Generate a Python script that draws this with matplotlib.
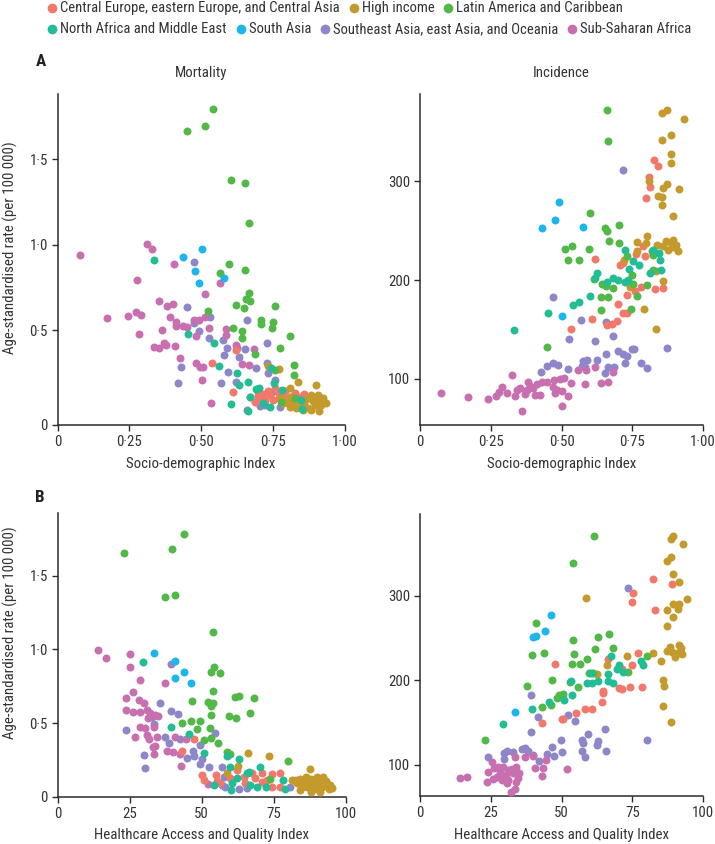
import matplotlib
matplotlib.use("Agg")
import matplotlib.pyplot as plt
from matplotlib import font_manager
from matplotlib.lines import Line2D

# ---------------- data ----------------
REGIONS = ["Central Europe, eastern Europe, and Central Asia", "High income",
           "Latin America and Caribbean", "North Africa and Middle East", "South Asia",
           "Southeast Asia, east Asia, and Oceania", "Sub-Saharan Africa"]
CODES = ["CEE", "HI", "LAC", "NAME", "SA", "SEAO", "SSA"]
COLORS = {"CEE": "#F2786C", "HI": "#C39A2B", "LAC": "#52B848", "NAME": "#22BC95",
          "SA": "#1BB6EB", "SEAO": "#8D87C9", "SSA": "#C86FAF"}

# Panel A, mortality vs Socio-demographic Index
mort_sdi = {
    "LAC": [(0.541, 1.795), (0.514, 1.696), (0.450, 1.667), (0.605, 1.378), (0.652, 1.363), (0.665, 1.129),
            (0.597, 0.885), (0.564, 0.836), (0.651, 0.852), (0.666, 0.719), (0.657, 0.682), (0.671, 0.671),
            (0.650, 0.628), (0.620, 0.647), (0.524, 0.614), (0.756, 0.643), (0.707, 0.563), (0.750, 0.550),
            (0.709, 0.534), (0.610, 0.511), (0.643, 0.497), (0.747, 0.511), (0.641, 0.456), (0.807, 0.466),
            (0.773, 0.398), (0.687, 0.361), (0.824, 0.297), (0.821, 0.238), (0.757, 0.270), (0.825, 0.101),
            (0.778, 0.082)],
    "SA": [(0.435, 0.926), (0.504, 0.975), (0.477, 0.848), (0.492, 0.774), (0.579, 0.807)],
    "NAME": [(0.335, 0.914), (0.454, 0.477), (0.543, 0.423), (0.563, 0.293), (0.625, 0.252), (0.632, 0.179),
             (0.661, 0.199), (0.604, 0.069), (0.661, 0.030), (0.689, 0.155), (0.701, 0.160), (0.753, 0.193),
             (0.715, 0.076), (0.740, 0.053), (0.848, 0.092), (0.851, 0.037), (0.744, 0.277), (0.668, 0.111),
             (0.780, 0.150)],
    "CEE": [(0.537, 0.310), (0.622, 0.384), (0.610, 0.140), (0.668, 0.107), (0.697, 0.115), (0.732, 0.147),
            (0.715, 0.127), (0.793, 0.147), (0.807, 0.107), (0.859, 0.127), (0.749, 0.092), (0.772, 0.101),
            (0.720, 0.092), (0.825, 0.131), (0.767, 0.141), (0.740, 0.121), (0.686, 0.082), (0.784, 0.121),
            (0.697, 0.140), (0.795, 0.082), (0.842, 0.111), (0.755, 0.160), (0.703, 0.101), (0.877, 0.101)],
    "HI": [(0.732, 0.291), (0.770, 0.271), (0.837, 0.199), (0.898, 0.179), (0.810, 0.160), (0.798, 0.082),
           (0.819, 0.063), (0.842, 0.088), (0.865, 0.096), (0.888, 0.088), (0.912, 0.082), (0.935, 0.076),
           (0.871, 0.043), (0.909, 0.028), (0.848, 0.063), (0.831, 0.043), (0.894, 0.063), (0.807, 0.053),
           (0.882, 0.121), (0.859, 0.072), (0.825, 0.092), (0.900, 0.101), (0.923, 0.101), (0.785, 0.076),
           (0.853, 0.034), (0.883, 0.034), (0.917, 0.063), (0.778, 0.101), (0.813, 0.111), (0.905, 0.121)],
    "SEAO": [(0.476, 0.901), (0.452, 0.634), (0.532, 0.579), (0.492, 0.497), (0.474, 0.540), (0.526, 0.452),
             (0.574, 0.446), (0.658, 0.560), (0.590, 0.394), (0.579, 0.355), (0.630, 0.345), (0.624, 0.398),
             (0.651, 0.388), (0.729, 0.427), (0.729, 0.306), (0.733, 0.252), (0.689, 0.277), (0.594, 0.254),
             (0.570, 0.193), (0.431, 0.283), (0.420, 0.189), (0.622, 0.199), (0.755, 0.212), (0.747, 0.140),
             (0.703, 0.057), (0.720, 0.063), (0.773, 0.049), (0.804, 0.072), (0.778, 0.107), (0.659, 0.034)],
    "SSA": [(0.078, 0.943), (0.171, 0.573), (0.245, 0.585), (0.272, 0.608), (0.292, 0.589), (0.278, 0.797),
            (0.284, 0.477), (0.311, 1.002), (0.328, 0.973), (0.405, 0.885), (0.354, 0.673), (0.382, 0.644),
            (0.402, 0.653), (0.391, 0.579), (0.411, 0.550), (0.411, 0.526), (0.435, 0.526), (0.452, 0.520),
            (0.475, 0.559), (0.491, 0.559), (0.512, 0.575), (0.512, 0.715), (0.564, 0.774), (0.526, 0.516),
            (0.362, 0.501), (0.336, 0.404), (0.354, 0.394), (0.377, 0.413), (0.410, 0.409), (0.370, 0.423),
            (0.427, 0.339), (0.483, 0.466), (0.481, 0.310), (0.497, 0.287), (0.506, 0.283), (0.504, 0.209),
            (0.535, 0.076), (0.587, 0.505), (0.587, 0.472), (0.620, 0.413), (0.643, 0.302), (0.666, 0.297),
            (0.683, 0.388)],
}

# Panel A, incidence vs Socio-demographic Index
inc_sdi = {
    "LAC": [(0.660, 372), (0.663, 340), (0.601, 268), (0.655, 253), (0.662, 250), (0.702, 256), (0.669, 239),
            (0.704, 237), (0.512, 231), (0.538, 234), (0.596, 231), (0.523, 220), (0.563, 220), (0.615, 201),
            (0.644, 196), (0.681, 192), (0.638, 183), (0.665, 183), (0.639, 170), (0.744, 171), (0.767, 184),
            (0.448, 132), (0.748, 205), (0.754, 196), (0.803, 195), (0.819, 229), (0.822, 225), (0.825, 210),
            (0.657, 194), (0.730, 224)],
    "SA": [(0.492, 279), (0.476, 261), (0.432, 253), (0.577, 254), (0.502, 164)],
    "NAME": [(0.332, 149), (0.451, 167), (0.542, 175), (0.561, 178), (0.601, 184), (0.627, 207), (0.619, 202),
             (0.660, 198), (0.681, 202), (0.701, 200), (0.724, 198), (0.736, 200), (0.724, 230), (0.751, 219),
             (0.775, 215), (0.740, 211), (0.813, 207), (0.822, 230), (0.846, 227), (0.848, 220), (0.852, 210)],
    "CEE": [(0.828, 321), (0.842, 315), (0.808, 304), (0.813, 294), (0.799, 283), (0.618, 221), (0.707, 215),
            (0.718, 217), (0.763, 226), (0.795, 224), (0.789, 234), (0.730, 185), (0.760, 189), (0.781, 193),
            (0.830, 191), (0.860, 192), (0.701, 176), (0.718, 167), (0.730, 167), (0.660, 155), (0.677, 156),
            (0.695, 159), (0.609, 161), (0.534, 151)],
    "HI": [(0.854, 369), (0.872, 372), (0.933, 363), (0.856, 342), (0.887, 347), (0.886, 327), (0.887, 318),
           (0.810, 300), (0.860, 293), (0.874, 297), (0.916, 292), (0.842, 285), (0.854, 284), (0.854, 276),
           (0.895, 265), (0.803, 244), (0.768, 238), (0.798, 237), (0.836, 235), (0.869, 239), (0.886, 237),
           (0.905, 235), (0.893, 240), (0.910, 229), (0.878, 230), (0.860, 234), (0.766, 229), (0.722, 220),
           (0.834, 209), (0.858, 199), (0.742, 193), (0.792, 171), (0.834, 151), (0.895, 233)],
    "SEAO": [(0.718, 311), (0.471, 183), (0.568, 160), (0.657, 158), (0.528, 140), (0.620, 138), (0.681, 143),
             (0.657, 125), (0.627, 119), (0.701, 128), (0.718, 125), (0.748, 130), (0.756, 130), (0.724, 116),
             (0.780, 116), (0.801, 111), (0.874, 131), (0.577, 118), (0.589, 119), (0.583, 112), (0.571, 113),
             (0.524, 110), (0.426, 107), (0.450, 113), (0.471, 116), (0.489, 114), (0.652, 106), (0.665, 112),
             (0.685, 112), (0.733, 123)],
    "SSA": [(0.074, 86), (0.168, 82), (0.242, 80), (0.268, 83), (0.280, 87), (0.288, 92), (0.309, 86),
            (0.325, 104), (0.334, 83), (0.353, 91), (0.359, 68), (0.371, 85), (0.380, 97), (0.389, 93),
            (0.400, 91), (0.412, 95), (0.424, 84), (0.430, 97), (0.448, 97), (0.475, 99), (0.477, 86),
            (0.495, 100), (0.509, 101), (0.501, 88), (0.502, 73), (0.524, 83), (0.532, 96), (0.559, 109),
            (0.584, 95), (0.587, 109), (0.618, 112), (0.638, 96), (0.665, 97), (0.681, 107), (0.471, 92),
            (0.483, 89), (0.406, 84), (0.377, 89), (0.342, 89)],
}

# Panel B, mortality vs Healthcare Access and Quality Index
mort_haq = {
    "LAC": [(43.8, 1.781), (39.8, 1.681), (23.0, 1.652), (37.4, 1.354), (40.8, 1.369), (53.9, 1.121),
            (54.3, 0.881), (53.2, 0.850), (56.4, 0.838), (53.9, 0.719), (52.0, 0.646), (53.8, 0.635),
            (53.3, 0.617), (53.3, 0.556), (46.5, 0.653), (61.5, 0.680), (62.8, 0.685), (68.0, 0.669),
            (59.3, 0.551), (61.9, 0.538), (66.8, 0.567), (43.1, 0.499), (46.2, 0.515), (49.5, 0.518),
            (48.3, 0.459), (52.7, 0.470), (53.3, 0.398), (55.8, 0.364), (50.9, 0.386), (58.7, 0.307),
            (80.0, 0.246), (73.5, 0.120), (59.9, 0.290)],
    "SA": [(33.6, 0.974), (40.7, 0.922), (44.0, 0.845), (40.9, 0.805), (46.4, 0.775)],
    "NAME": [(29.5, 0.913), (39.5, 0.477), (45.5, 0.427), (50.9, 0.301), (58.7, 0.278), (63.0, 0.258),
             (59.9, 0.201), (66.5, 0.172), (70.3, 0.201), (60.5, 0.097), (54.1, 0.081), (60.1, 0.047),
             (66.8, 0.081), (69.2, 0.066), (72.4, 0.066), (78.2, 0.115), (79.0, 0.052), (65.7, 0.160),
             (62.2, 0.127)],
    "CEE": [(47.2, 0.391), (50.1, 0.149), (50.9, 0.115), (55.0, 0.149), (55.3, 0.111), (64.5, 0.133),
            (65.1, 0.093), (67.4, 0.165), (70.9, 0.160), (70.9, 0.104), (74.4, 0.156), (77.0, 0.165),
            (77.2, 0.070), (82.5, 0.115), (62.2, 0.183), (59.7, 0.127), (68.6, 0.127), (72.6, 0.115),
            (74.4, 0.070), (56.4, 0.093), (43.1, 0.314)],
    "HI": [(65.9, 0.301), (73.2, 0.278), (62.6, 0.210), (58.7, 0.165), (87.4, 0.188), (84.2, 0.120),
           (85.9, 0.111), (87.7, 0.120), (89.4, 0.111), (91.1, 0.115), (92.9, 0.111), (84.8, 0.070),
           (86.5, 0.066), (88.3, 0.075), (90.0, 0.052), (91.7, 0.070), (94.0, 0.052), (88.9, 0.088),
           (87.1, 0.093), (90.6, 0.093), (92.3, 0.081), (85.6, 0.088), (83.0, 0.093), (95.2, 0.059),
           (93.5, 0.088), (89.8, 0.133), (87.9, 0.036), (91.1, 0.036), (81.3, 0.115), (86.3, 0.133),
           (84.2, 0.047), (92.1, 0.133), (94.4, 0.081)],
    "SEAO": [(39.4, 0.899), (35.5, 0.640), (39.3, 0.583), (41.8, 0.560), (23.8, 0.454), (32.7, 0.544),
             (33.5, 0.493), (37.1, 0.405), (38.8, 0.364), (42.5, 0.391), (54.7, 0.432), (30.0, 0.285),
             (30.4, 0.194), (44.9, 0.262), (47.0, 0.312), (47.2, 0.278), (49.5, 0.224), (50.1, 0.255),
             (52.4, 0.201), (57.0, 0.206), (57.6, 0.133), (57.0, 0.081), (58.2, 0.070), (62.8, 0.052),
             (65.7, 0.059), (80.5, 0.066), (49.5, 0.353)],
    "SSA": [(14.2, 0.997), (16.8, 0.940), (25.2, 0.970), (25.0, 0.879), (28.6, 0.793), (37.1, 0.771),
            (23.8, 0.669), (26.1, 0.710), (28.4, 0.658), (30.0, 0.640), (23.8, 0.590), (26.1, 0.579),
            (28.6, 0.574), (31.0, 0.590), (32.1, 0.567), (33.8, 0.556), (35.0, 0.549), (31.2, 0.533),
            (28.6, 0.477), (30.4, 0.466), (33.5, 0.477), (26.9, 0.409), (31.0, 0.420), (31.8, 0.391),
            (34.4, 0.409), (33.8, 0.346), (33.0, 0.341), (33.6, 0.292), (37.9, 0.314), (40.2, 0.307),
            (40.8, 0.409), (42.5, 0.292), (42.8, 0.212), (44.5, 0.391), (52.0, 0.088)],
}

# Panel B, incidence vs Healthcare Access and Quality Index
inc_haq = {
    "LAC": [(61.5, 371), (54.2, 339), (40.9, 268), (62.9, 252), (66.7, 255), (53.9, 248), (61.7, 237),
            (68.1, 238), (39.7, 230), (43.8, 233), (54.4, 231), (53.6, 220), (56.5, 220), (58.9, 225),
            (46.6, 201), (37.7, 193), (59.6, 209), (61.2, 209), (53.0, 198), (55.9, 192), (48.3, 179),
            (49.2, 183), (50.6, 184), (43.0, 169), (46.3, 171), (23.0, 130), (80.1, 229), (73.6, 210)],
    "SA": [(46.2, 278), (44.2, 259), (40.9, 253), (40.0, 252), (33.7, 163)],
    "NAME": [(29.4, 149), (39.7, 166), (45.7, 174), (50.9, 177), (53.6, 183), (53.2, 199), (58.9, 197),
             (60.4, 209), (60.8, 197), (63.0, 199), (66.5, 208), (66.5, 199), (68.1, 197), (67.4, 229),
             (69.5, 214), (70.4, 218), (71.8, 210), (78.1, 223), (78.9, 218)],
    "CEE": [(82.4, 320), (89.2, 314), (75.1, 303), (74.8, 293), (83.2, 283), (47.6, 220), (66.5, 225),
            (74.8, 218), (77.0, 233), (64.8, 188), (64.8, 185), (70.4, 191), (71.3, 190), (74.2, 192),
            (78.4, 192), (64.3, 175), (58.2, 166), (60.9, 166), (55.1, 161), (50.1, 155), (50.4, 154),
            (43.0, 150), (71.3, 214)],
    "HI": [(88.7, 367), (89.5, 371), (93.1, 362), (87.4, 341), (88.6, 346), (89.5, 326), (91.6, 316),
           (58.7, 298), (89.5, 291), (91.6, 291), (94.2, 296), (91.3, 284), (87.2, 283), (89.5, 275),
           (87.4, 264), (82.4, 233), (85.2, 223), (87.4, 235), (88.9, 234), (90.7, 233), (92.1, 238),
           (91.6, 242), (92.5, 231), (90.1, 228), (88.3, 240), (73.3, 229), (66.2, 218), (62.7, 208),
           (85.7, 200), (86.2, 193), (85.7, 170), (88.7, 151)],
    "SEAO": [(73.6, 310), (39.2, 183), (41.8, 157), (52.4, 159), (54.8, 152), (39.2, 139), (65.4, 142),
             (59.5, 137), (49.8, 130), (57.1, 130), (57.5, 126), (63.0, 128), (62.7, 124), (80.3, 130),
             (57.4, 117), (58.3, 110), (65.7, 116), (23.9, 110), (29.7, 114), (30.6, 117), (33.0, 115),
             (35.9, 119), (37.1, 120), (38.3, 116), (40.0, 112), (42.2, 105), (44.8, 113), (46.5, 121),
             (47.3, 111), (50.1, 115), (29.8, 107)],
    "SSA": [(14.1, 85), (16.7, 86), (23.6, 80), (25.4, 104), (24.0, 92), (26.0, 96), (27.1, 86), (28.3, 91),
            (29.4, 98), (30.4, 88), (31.2, 82), (32.4, 95), (33.0, 90), (33.9, 98), (34.7, 85), (35.1, 91),
            (33.6, 109), (32.2, 68), (33.6, 72), (30.6, 79), (28.9, 82), (25.7, 83), (37.1, 109), (40.0, 111),
            (44.5, 106), (40.6, 96), (43.3, 97), (43.0, 87), (51.8, 95), (27.5, 98), (31.0, 94), (34.0, 80)],
}

# ---------------- figure ----------------
W, H = 715, 844
avail = {f.name for f in font_manager.fontManager.ttflist}
FONT = next((f for f in ["Liberation Sans Narrow", "Roboto Condensed", "Lato", "DejaVu Sans"]
             if f in avail), "DejaVu Sans")
plt.rcParams["font.family"] = [FONT, "DejaVu Sans"]
TXT = "#333333"

fig = plt.figure(figsize=(W / 100, H / 100), dpi=100)
renderer = fig.canvas.get_renderer()
probe = fig.text(0, 0, "Healthcare Access and Quality Index", fontsize=10)
FS = 10 * 213.0 / probe.get_window_extent(renderer).width
probe.remove()


def rect(l, r, t, b):
    return [l / W, 1 - b / H, (r - l) / W, (b - t) / H]


def dot(v, nd):
    return "0" if v == 0 else f"{v:.{nd}f}".replace(".", "\u00b7")


DRAW_ORDER = ["SEAO", "SSA", "CEE", "HI", "LAC", "NAME", "SA"]

panels = [
    (mort_sdi, rect(57.5, 345, 94, 425), (0, 1.0), (-0.054, 1.882), [0, 0.25, 0.5, 0.75, 1.0], 2,
     [0, 0.5, 1.0, 1.5], 1),
    (inc_sdi, rect(420, 703, 94, 425), (0, 1.0), (53.5, 388), [0, 0.25, 0.5, 0.75, 1.0], 2,
     [100, 200, 300], 0),
    (mort_haq, rect(57.5, 346, 513, 797), (0, 100), (0, 1.925), [0, 25, 50, 75, 100], 0,
     [0, 0.5, 1.0, 1.5], 1),
    (inc_haq, rect(420, 703, 514, 796), (0, 100), (63.3, 397), [0, 25, 50, 75, 100], 0,
     [100, 200, 300], 0),
]

for i, (data, r, xl, yl, xt, xnd, yt, ynd) in enumerate(panels):
    ax = fig.add_axes(r)
    for code in DRAW_ORDER:
        pts = data[code]
        ax.scatter([p[0] for p in pts], [p[1] for p in pts], s=33, color=COLORS[code],
                   linewidths=0, zorder=3, clip_on=False)
    ax.set_xlim(*xl)
    ax.set_ylim(*yl)
    ax.set_xticks(xt)
    ax.set_xticklabels([dot(v, xnd) if xnd else str(int(v)) for v in xt])
    ytick_pos = list(yt)
    ylabels = [dot(v, ynd) if ynd else str(int(v)) for v in yt]
    if i == 0:
        # reference puts its "0" tick at the foot of the axis
        ytick_pos[0] = yl[0]
    ax.set_yticks(ytick_pos)
    ax.set_yticklabels(ylabels)
    for s in ["top", "right"]:
        ax.spines[s].set_visible(False)
    for s in ["left", "bottom"]:
        ax.spines[s].set_color("#2b2b2b")
        ax.spines[s].set_linewidth(1.1)
    ax.tick_params(direction="out", length=4, width=1, colors="#2b2b2b", labelcolor=TXT,
                   labelsize=FS, pad=3)

# axis titles / labels
fig.text(201 / W, 1 - 73 / H, "Mortality", ha="center", va="center", fontsize=FS, color=TXT)
fig.text(561.5 / W, 1 - 73 / H, "Incidence", ha="center", va="center", fontsize=FS, color=TXT)
fig.text(201 / W, 1 - 464 / H, "Socio-demographic Index", ha="center", va="center", fontsize=FS, color=TXT)
fig.text(561.5 / W, 1 - 464 / H, "Socio-demographic Index", ha="center", va="center", fontsize=FS, color=TXT)
fig.text(201 / W, 1 - 835 / H, "Healthcare Access and Quality Index", ha="center", va="center",
         fontsize=FS, color=TXT)
fig.text(561.5 / W, 1 - 835 / H, "Healthcare Access and Quality Index", ha="center", va="center",
         fontsize=FS, color=TXT)
for cy in (248, 633):
    fig.text(10 / W, 1 - cy / H, "Age-standardised rate (per 100 000)", ha="center", va="center",
             rotation=90, fontsize=FS, color=TXT)
fig.text(41 / W, 1 - 62 / H, "A", ha="center", va="center", fontsize=FS * 1.15, fontweight="bold", color="#222222")
fig.text(40 / W, 1 - 497 / H, "B", ha="center", va="center", fontsize=FS * 1.15, fontweight="bold", color="#222222")

# legend (two rows)
LFS = FS * 0.98
rows = [(8, [0, 1, 2]), (29, [3, 4, 5, 6])]
for cy, idxs in rows:
    x = 52.0
    for k in idxs:
        code = CODES[k]
        fig.add_artist(Line2D([x / W], [1 - cy / H], marker="o", linestyle="", markersize=7,
                              markerfacecolor=COLORS[code], markeredgewidth=0, transform=fig.transFigure))
        t = fig.text((x + 8) / W, 1 - cy / H, REGIONS[k], ha="left", va="center", fontsize=LFS, color=TXT)
        w = t.get_window_extent(renderer).width
        x = x + 8 + w + 14

fig.savefig("out.png", dpi=100)
